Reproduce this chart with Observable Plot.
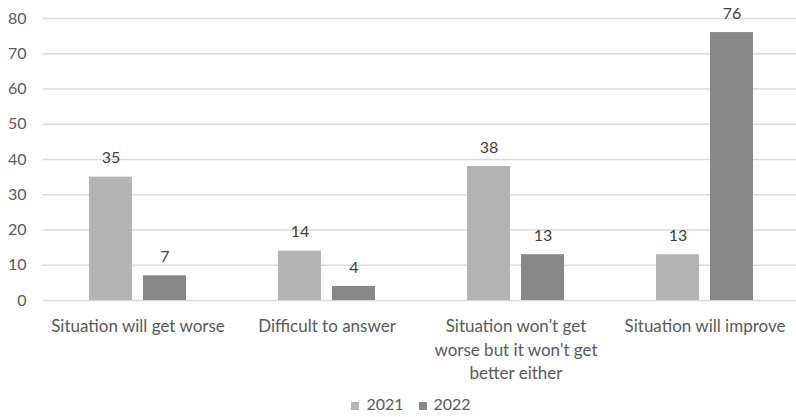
<!DOCTYPE html>
<html>
<head>
<meta charset="utf-8">
<script src="https://cdn.jsdelivr.net/npm/d3@7"></script>
<script src="https://cdn.jsdelivr.net/npm/@observablehq/plot@0.6"></script>
<style>
  body { margin: 0; background: #fff; font-family: Lato, "Open Sans", sans-serif; overflow: hidden; }
  #chart svg { overflow: hidden; }
  #legend { display: flex; justify-content: center; gap: 15px; font-size: 16px; color: #595959; height: 27px; align-items: center; margin-left: 26px; }
  #legend span.sw { display: inline-block; width: 8px; height: 8px; margin-right: 7px; }
</style>
</head>
<body>
<div id="chart"></div>
<div id="legend"></div>
<script>
const categories = [
  "Situation will get worse",
  "Difficult to answer",
  "Situation won't get worse but it won't get better either",
  "Situation will improve"
];
const categoryLabels = [
  "Situation will get worse",
  "Difficult to answer",
  "Situation won't get\nworse but it won't get\nbetter either",
  "Situation will improve"
];
const years = ["2021", "2022"];
const values2021 = [35, 14, 38, 13];
const values2022 = [7, 4, 13, 76];
const colors = ["#b3b3b3", "#878787"];
const yTicks = [0, 10, 20, 30, 40, 50, 60, 70, 80];

const data = [];
categories.forEach((c, i) => {
  data.push({category: c, year: years[0], value: values2021[i]});
  data.push({category: c, year: years[1], value: values2022[i]});
});
const labelOf = new Map(categories.map((c, i) => [c, categoryLabels[i]]));

const chart = Plot.plot({
  width: 796,
  height: 390,
  marginLeft: 42,
  marginRight: -4,
  marginTop: 18,
  marginBottom: 90,
  style: {fontFamily: "Lato, 'Open Sans', sans-serif", fontSize: "16px", color: "#595959", background: "#fff"},
  fx: {domain: categories, paddingInner: 0, paddingOuter: 0, label: null, axis: null},
  x: {domain: years, paddingInner: 0.211, paddingOuter: 0.844, axis: null},
  y: {domain: [0, 80], axis: null, label: null},
  color: {domain: years, range: colors},
  marks: [
    Plot.gridY(yTicks, {stroke: "#d9d9d9", strokeOpacity: 1, strokeWidth: 1.3}),
    Plot.axisY(yTicks, {tickSize: 0, tickPadding: 17, fontSize: 16, fill: "#595959", anchor: "left", label: null}),
    Plot.barY(data, {fx: "category", x: "year", y: "value", fill: "year"}),
    Plot.text(data, {fx: "category", x: "year", y: "value", text: d => String(d.value), dy: -19, fill: "#404040", fontSize: 16}),
    Plot.axisFx({anchor: "bottom", tickSize: 0, tickPadding: 15, fontSize: 17, fill: "#595959", tickFormat: d => labelOf.get(d), lineHeight: 1.38, label: null})
  ]
});
document.getElementById("chart").appendChild(chart);

const legend = document.getElementById("legend");
years.forEach((y, i) => {
  const item = document.createElement("div");
  item.innerHTML = `<span class="sw" style="background:${colors[i]}"></span>${y}`;
  legend.appendChild(item);
});
</script>
</body>
</html>
